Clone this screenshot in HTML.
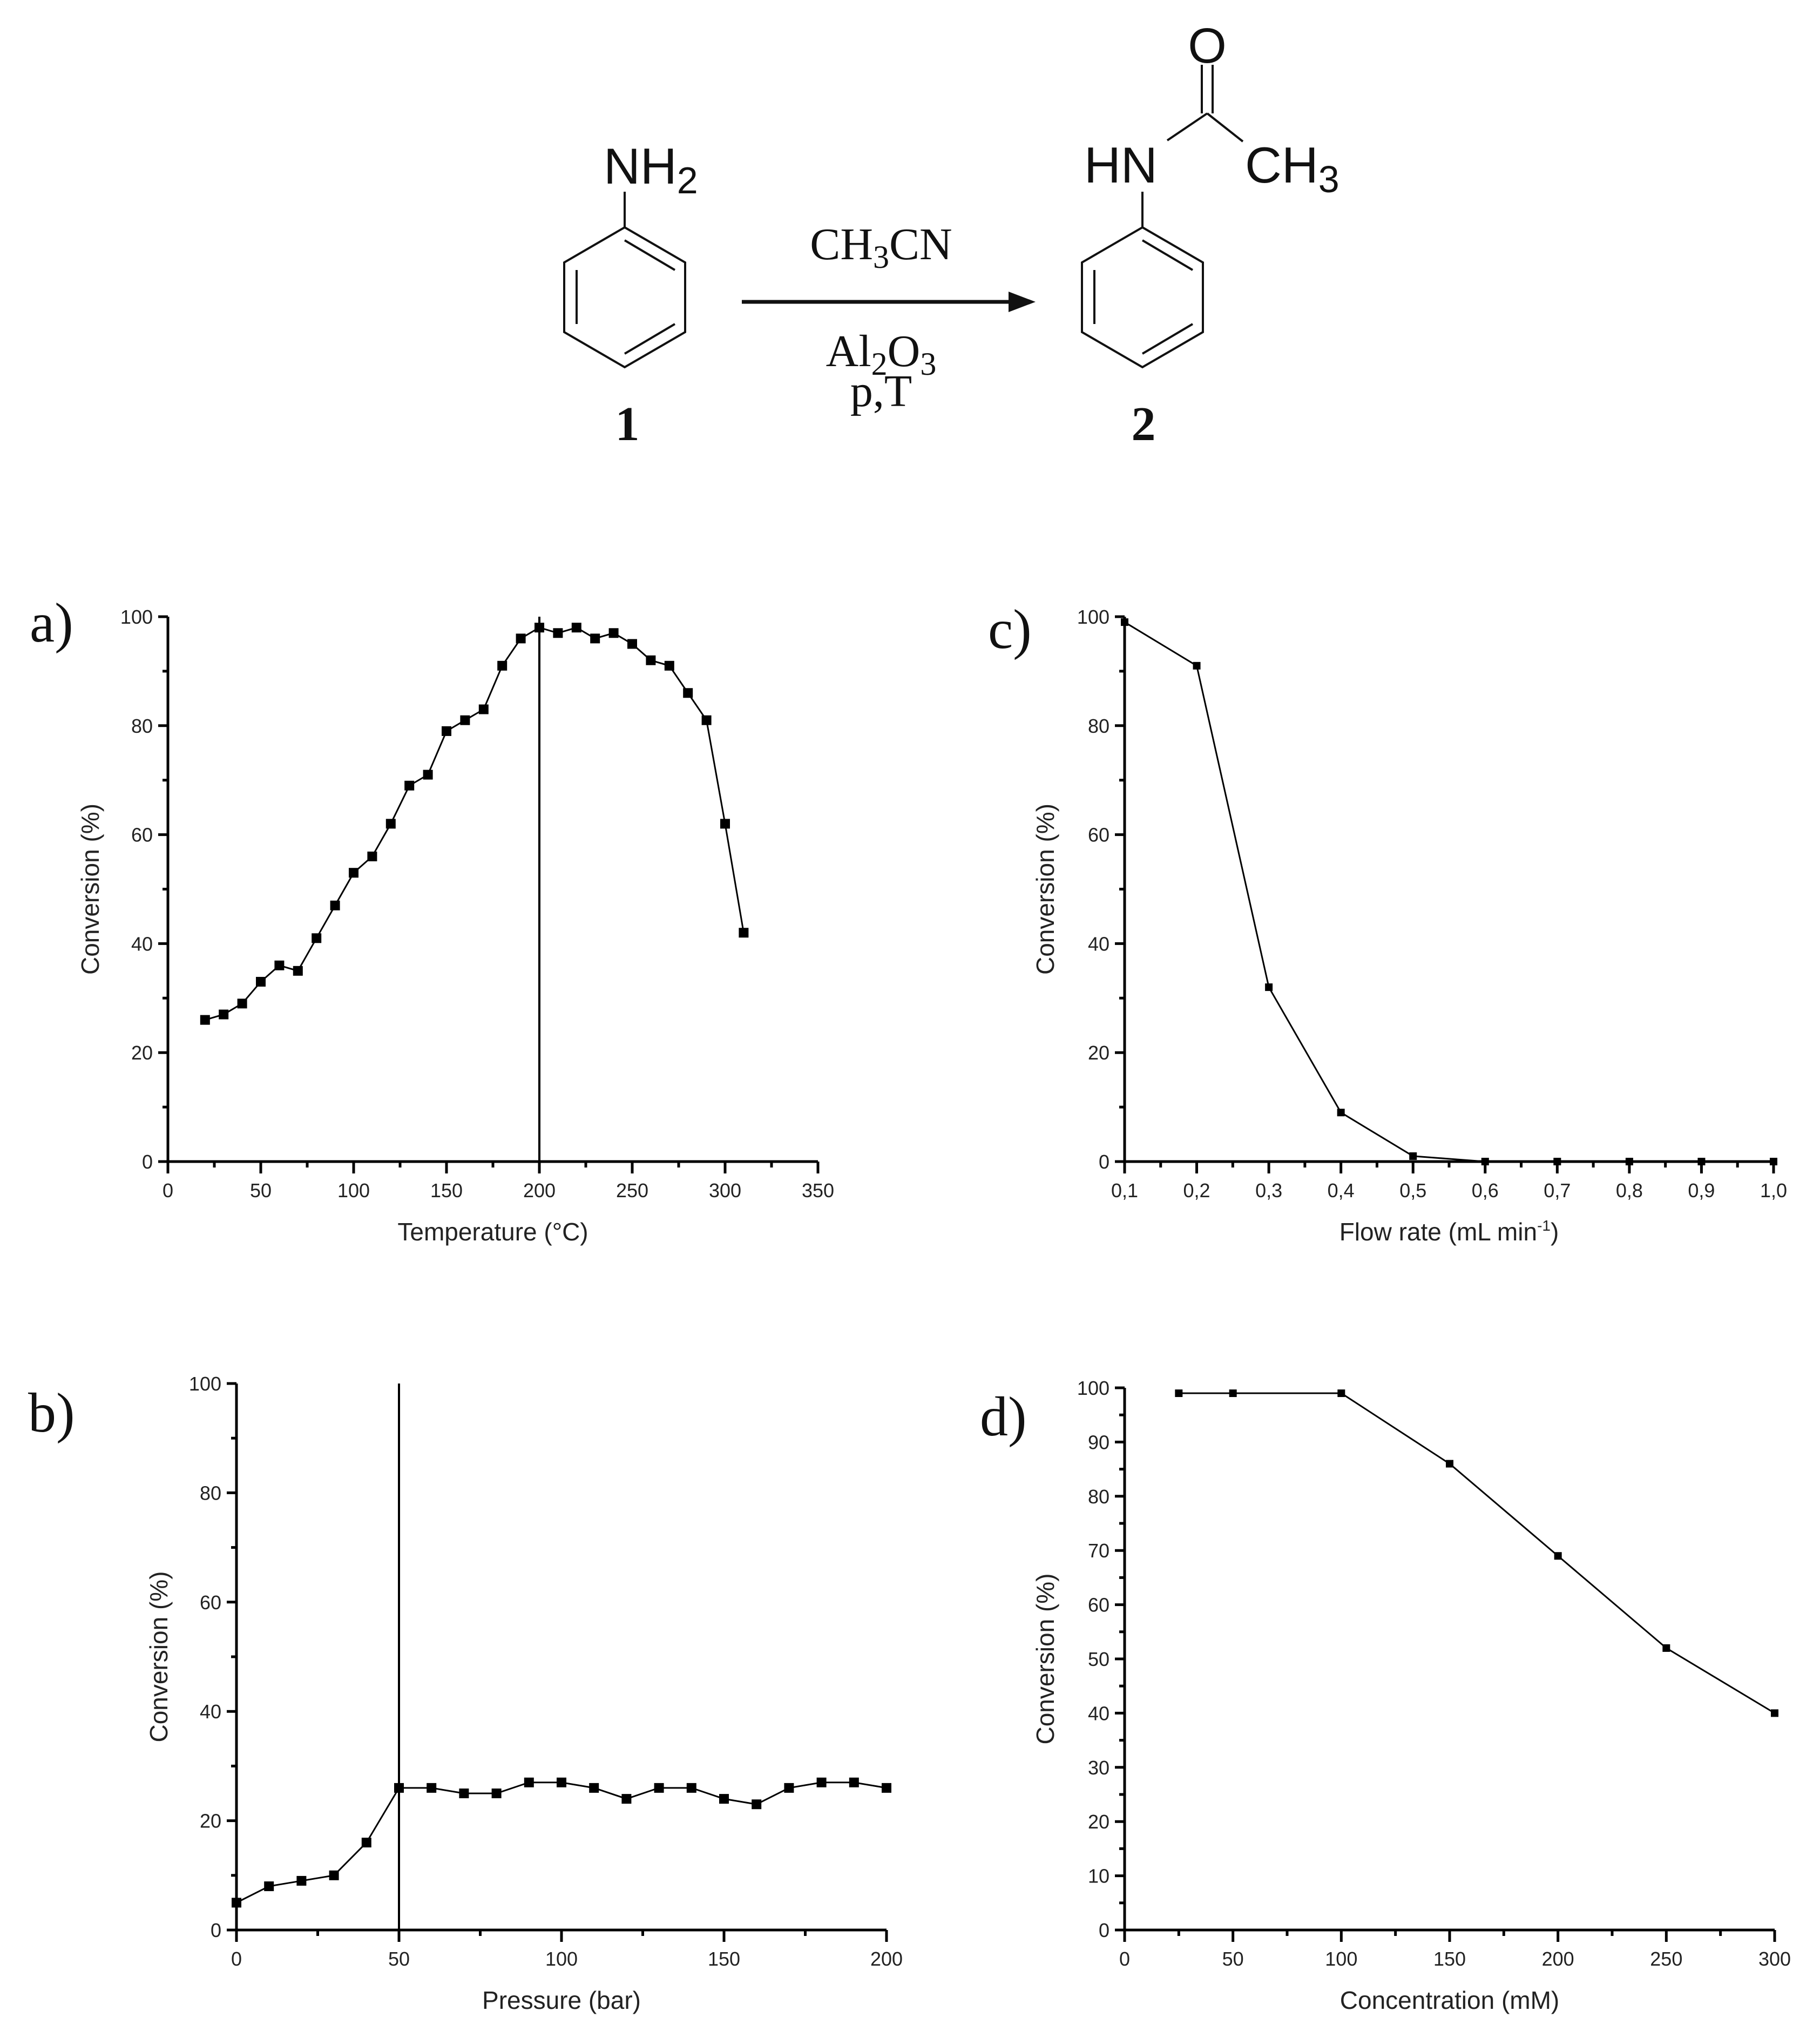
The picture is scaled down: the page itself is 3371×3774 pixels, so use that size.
<!DOCTYPE html>
<html><head><meta charset="utf-8">
<style>
html,body{margin:0;padding:0;background:#fff;}
svg{display:block;}
.tk{font-family:"Liberation Sans",sans-serif;font-size:36px;fill:#222;}
.tt{font-family:"Liberation Sans",sans-serif;font-size:46px;fill:#222;}
.sf{font-family:"Liberation Serif",serif;fill:#111;}
.ss{font-family:"Liberation Sans",sans-serif;fill:#111;}
</style></head>
<body>
<svg id="fig" width="3371" height="3774" viewBox="0 0 3371 3774" xmlns="http://www.w3.org/2000/svg">
<g id="scheme" stroke="#111" stroke-width="4" fill="none">
  <polygon points="1157,421 1269,486 1269,615 1157,680 1045,615 1045,486"/>
  <line x1="1157" y1="445" x2="1250" y2="500"/><line x1="1068" y1="500" x2="1068" y2="600"/><line x1="1250" y1="600" x2="1157" y2="655"/>
  <line x1="1157" y1="421" x2="1157" y2="355"/>
  <polygon points="2116,421 2228,486 2228,615 2116,680 2004,615 2004,486"/>
  <line x1="2116" y1="445" x2="2209" y2="500"/><line x1="2027" y1="500" x2="2027" y2="600"/><line x1="2209" y1="600" x2="2116" y2="655"/>
  <line x1="2116" y1="421" x2="2116" y2="355"/>
  <line x1="2162" y1="260" x2="2236" y2="210"/>
  <line x1="2236" y1="210" x2="2302" y2="262"/>
  <line x1="2226" y1="210" x2="2226" y2="120"/><line x1="2246" y1="210" x2="2246" y2="120"/>
  <line x1="1374" y1="559" x2="1880" y2="559" stroke-width="7"/>
  <polygon points="1868,540 1918,559 1868,578" fill="#111" stroke="none"/>
</g>
<g>
  <text class="ss" x="1118" y="340" font-size="94">NH<tspan font-size="70" dy="18">2</tspan></text>
  <text class="ss" x="2008" y="338" font-size="94">HN</text>
  <text class="ss" x="2306" y="338" font-size="94">CH<tspan font-size="70" dy="18">3</tspan></text>
  <text class="ss" x="2236" y="116" font-size="92" text-anchor="middle">O</text>
  <text class="sf" x="1632" y="480" font-size="84" text-anchor="middle">CH<tspan font-size="60" dy="16">3</tspan><tspan dy="-16">CN</tspan></text>
  <text class="sf" x="1632" y="678" font-size="84" text-anchor="middle">Al<tspan font-size="60" dy="16">2</tspan><tspan dy="-16">O</tspan><tspan font-size="60" dy="16">3</tspan></text>
  <text class="sf" x="1632" y="752" font-size="84" text-anchor="middle">p,T</text>
  <text class="sf" x="1162" y="815" font-size="90" font-weight="bold" text-anchor="middle">1</text>
  <text class="sf" x="2118" y="815" font-size="90" font-weight="bold" text-anchor="middle">2</text>
</g>
<g id="charts"></g>
</svg>
<script>
// Panel a: temperature
const aX = [20,30,40,50,60,70,80,90,100,110,120,130,140,150,160,170,180,190,200,210,220,230,240,250,260,270,280,290,300,310];
const aY = [26,27,29,33,36,35,41,47,53,56,62,69,71,79,81,83,91,96,98,97,98,96,97,95,92,91,86,81,62,42];
const aXTicks = [0,50,100,150,200,250,300,350];
const aYTicks = [0,20,40,60,80,100];
// Panel b: pressure
const bX = [0,10,20,30,40,50,60,70,80,90,100,110,120,130,140,150,160,170,180,190,200];
const bY = [5,8,9,10,16,26,26,25,25,27,27,26,24,26,26,24,23,26,27,27,26];
const bXTicks = [0,50,100,150,200];
const bYTicks = [0,20,40,60,80,100];
// Panel c: flow rate
const cX = [0.1,0.2,0.3,0.4,0.5,0.6,0.7,0.8,0.9,1.0];
const cY = [99,91,32,9,1,0,0,0,0,0];
const cXTicks = ["0,1","0,2","0,3","0,4","0,5","0,6","0,7","0,8","0,9","1,0"];
const cYTicks = [0,20,40,60,80,100];
// Panel d: concentration
const dX = [25,50,100,150,200,250,300];
const dY = [99,99,99,86,69,52,40];
const dXTicks = [0,50,100,150,200,250,300];
const dYTicks = [0,10,20,30,40,50,60,70,80,90,100];

const NS = "http://www.w3.org/2000/svg";
const root = document.getElementById('charts');
function mk(tag, attrs, parent){
  const e = document.createElementNS(NS, tag);
  for (const k in attrs) e.setAttribute(k, attrs[k]);
  parent.appendChild(e);
  return e;
}
function panel(o){
  const g = mk('g', {}, root);
  
  
  const sx = v => o.L + (v - o.x0) / (o.x1 - o.x0) * (o.R - o.L);
  const sy = v => o.B - (v - o.y0) / (o.y1 - o.y0) * (o.B - o.T);
  const ax = mk('line', {x1:o.L-18, y1:o.B, x2:o.R, y2:o.B, stroke:'#000','stroke-width':5}, g);
  
  
  const ay = mk('line', {x1:o.L, y1:o.T, x2:o.L, y2:o.B+22, stroke:'#000','stroke-width':5}, g);
  
  
  o.xTicks.forEach((lab, i) => {
    const v = o.x0 + i * o.xStep;
    const x = sx(v);
    mk('line', {x1:x, y1:o.B, x2:x, y2:o.B+22, stroke:'#000','stroke-width':5}, g);
    if (i < o.xTicks.length - 1) {
      const xm = sx(v + o.xStep/2);
      mk('line', {x1:xm, y1:o.B, x2:xm, y2:o.B+11, stroke:'#000','stroke-width':5}, g);
    }
    const t = mk('text', {x:x, y:o.B+66, 'text-anchor':'middle', class:'tk'}, g);
    t.textContent = lab;
    
    
  });
  o.yTicks.forEach((v, i) => {
    const y = sy(v);
    mk('line', {x1:o.L-18, y1:y, x2:o.L, y2:y, stroke:'#000','stroke-width':5}, g);
    if (i < o.yTicks.length - 1) {
      const ym = sy(v + o.yStep/2);
      mk('line', {x1:o.L-10, y1:ym, x2:o.L, y2:ym, stroke:'#000','stroke-width':5}, g);
    }
    const t = mk('text', {x:o.L-28, y:y+13, 'text-anchor':'end', class:'tk'}, g);
    t.textContent = v;
    
    
  });
  if (o.vline !== undefined) {
    const vl = mk('line', {x1:sx(o.vline), y1:o.T, x2:sx(o.vline), y2:o.B, stroke:'#000','stroke-width':4}, g);
    
    
  }
  const pts = o.xs.map((x, i) => sx(x) + ',' + sy(o.ys[i])).join(' ');
  const pl = mk('polyline', {points:pts, fill:'none', stroke:'#000','stroke-width':3}, g);
  
  
  const m = o.ms;
  o.xs.forEach((x, i) => {
    const r = mk('rect', {x:sx(x)-m/2, y:sy(o.ys[i])-m/2, width:m, height:m, fill:'#000'}, g);
    
    
  });
  const xt = mk('text', {x:(o.L+o.R)/2, y:o.B+146, 'text-anchor':'middle', class:'tt'}, g);
  xt.innerHTML = o.xTitle;
  
  
  const cy = (o.T+o.B)/2;
  const yt = mk('text', {x:o.yTitleX, y:cy, 'text-anchor':'middle', class:'tt', transform:'rotate(-90 '+o.yTitleX+' '+cy+')'}, g);
  yt.textContent = 'Conversion (%)';
  
  
  const pl2 = mk('text', {x:o.labX, y:o.labY, class:'sf', 'font-size':104}, g);
  pl2.textContent = o.label;
  
  
}
panel({name:'chart-a-temperature', L:311, R:1515, T:1142, B:2151, x0:0, x1:350, xStep:50, y0:0, y1:100, yStep:20, ms:18,
  xTicks:aXTicks, yTicks:aYTicks, xs:aX, ys:aY, vline:200, xTitle:'Temperature (°C)', yTitleX:183, label:'a)', labX:55, labY:1188});
panel({name:'chart-b-pressure', L:438, R:1642, T:2562, B:3574, x0:0, x1:200, xStep:50, y0:0, y1:100, yStep:20, ms:18,
  xTicks:bXTicks, yTicks:bYTicks, xs:bX, ys:bY, vline:50, xTitle:'Pressure (bar)', yTitleX:310, label:'b)', labX:52, labY:2651});
panel({name:'chart-c-flow-rate', L:2083, R:3285, T:1142, B:2151, x0:0.1, x1:1.0, xStep:0.1, y0:0, y1:100, yStep:20, ms:14,
  xTicks:cXTicks, yTicks:cYTicks, xs:cX, ys:cY, xTitle:'Flow rate (mL min<tspan font-size="28" dy="-18">-1</tspan><tspan dy="18">)</tspan>', yTitleX:1952, label:'c)', labX:1830, labY:1200});
panel({name:'chart-d-concentration', L:2083, R:3287, T:2570, B:3574, x0:0, x1:300, xStep:50, y0:0, y1:100, yStep:10, ms:14,
  xTicks:dXTicks, yTicks:dYTicks, xs:dX, ys:dY, xTitle:'Concentration (mM)', yTitleX:1952, label:'d)', labX:1815, labY:2658});
</script>
</body></html>
